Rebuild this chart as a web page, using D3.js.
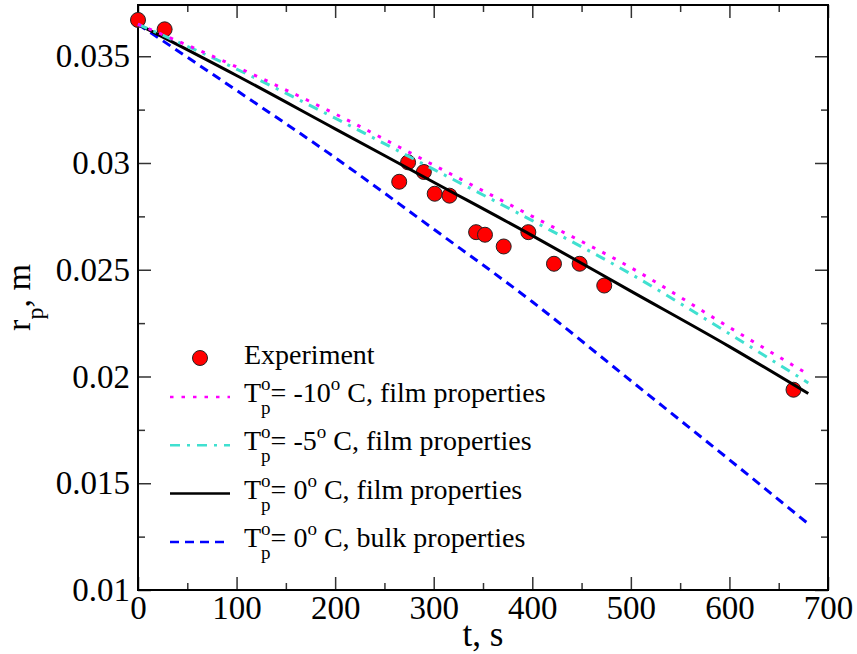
<!DOCTYPE html>
<html>
<head>
<meta charset="utf-8">
<script src="https://cdn.jsdelivr.net/npm/d3@7"></script>
<style>
  body { margin: 0; background: #fff; }
  svg { display: block; }
</style>
</head>
<body>
<svg id="chart" width="857" height="654"></svg>
<script>
// experiment points
var tExp = [0, 27, 265, 274, 290, 301, 316, 343, 352, 371, 396, 422, 448, 473, 665];
var rExp = [0.0367, 0.03626, 0.02912, 0.03003, 0.02958, 0.02856, 0.02847, 0.02676,
            0.02664, 0.02609, 0.02676, 0.02528, 0.02528, 0.02426, 0.01938];

// model curves, all sampled at the same times
var tModel = [0, 100, 200, 300, 400, 500, 600, 680];
var rFilmM10 = [0.0365, 0.0345, 0.0323, 0.0299, 0.0275, 0.0251, 0.0223, 0.0201];
var rFilmM5  = [0.0365, 0.0344, 0.0321, 0.0297, 0.0273, 0.0248, 0.0220, 0.0197];
var rFilm0   = [0.0365, 0.0341, 0.0316, 0.0291, 0.0266, 0.0240, 0.0214, 0.0192];
var rBulk0   = [0.0365, 0.0334, 0.03025, 0.0269, 0.0235, 0.0198, 0.0161, 0.0131];

var legendTemps = ["-10", "-5", "0", "0"];
var legendProps = ["film", "film", "film", "bulk"];

var xTicks = [0, 100, 200, 300, 400, 500, 600, 700];
var yTicks = [0.01, 0.015, 0.02, 0.025, 0.03, 0.035];

var FONT = "Liberation Serif";
var margin = {top: 5, right: 29, bottom: 64, left: 138};
var width = 857, height = 654;

var svg = d3.select("#chart");

var x = d3.scaleLinear().domain([0, 700]).range([margin.left, width - margin.right]);
var y = d3.scaleLinear().domain([0.01, 0.0374]).range([height - margin.bottom, margin.top]);

var x0 = margin.left, x1 = width - margin.right;
var y0 = height - margin.bottom, y1 = margin.top;

// minor ticks
var xMinor = d3.range(50, 700, 100);
var yMinor = d3.range(0.0125, 0.0374, 0.005);

function tickStyle(g) {
    g.attr("font-family", null).attr("font-size", null);
    g.select(".domain").remove();
    g.selectAll(".tick line").attr("stroke", "#333").attr("stroke-width", 1.5);
    g.selectAll(".tick text").attr("fill", "#000").attr("font-size", 33);
}

// bottom axis with labels
svg.append("g")
    .attr("transform", `translate(0,${y0})`)
    .call(d3.axisBottom(x).tickValues(xTicks).tickSize(-13).tickPadding(6).tickFormat(d3.format("d")))
    .call(tickStyle);
svg.append("g")
    .attr("transform", `translate(0,${y0})`)
    .call(d3.axisBottom(x).tickValues(xMinor).tickSize(-7).tickFormat(""))
    .call(tickStyle);
// top axis
svg.append("g")
    .attr("transform", `translate(0,${y1})`)
    .call(d3.axisTop(x).tickValues(xTicks).tickSize(-13).tickFormat(""))
    .call(tickStyle);
svg.append("g")
    .attr("transform", `translate(0,${y1})`)
    .call(d3.axisTop(x).tickValues(xMinor).tickSize(-7).tickFormat(""))
    .call(tickStyle);

// left axis with labels
svg.append("g")
    .attr("transform", `translate(${x0},0)`)
    .call(d3.axisLeft(y).tickValues(yTicks).tickSize(-13).tickPadding(8).tickFormat(d => String(+d.toFixed(3))))
    .call(tickStyle);
svg.append("g")
    .attr("transform", `translate(${x0},0)`)
    .call(d3.axisLeft(y).tickValues(yMinor).tickSize(-7).tickFormat(""))
    .call(tickStyle);
// right axis
svg.append("g")
    .attr("transform", `translate(${x1},0)`)
    .call(d3.axisRight(y).tickValues(yTicks).tickSize(-13).tickFormat(""))
    .call(tickStyle);
svg.append("g")
    .attr("transform", `translate(${x1},0)`)
    .call(d3.axisRight(y).tickValues(yMinor).tickSize(-7).tickFormat(""))
    .call(tickStyle);

// frame
svg.append("rect")
    .attr("x", x0).attr("y", y1)
    .attr("width", x1 - x0).attr("height", y0 - y1)
    .attr("fill", "none").attr("stroke", "#000").attr("stroke-width", 2);

// experiment circles (under the lines)
svg.append("g").selectAll("circle")
    .data(tExp.map((t, i) => [t, rExp[i]]))
    .join("circle")
    .attr("cx", d => x(d[0]))
    .attr("cy", d => y(d[1]))
    .attr("r", 7.5)
    .attr("fill", "#ff0000")
    .attr("stroke", "#222")
    .attr("stroke-width", 1);

var series = [
    {r: rBulk0,   color: "#0000ff", dash: "9,6"},
    {r: rFilm0,   color: "#000000", dash: null},
    {r: rFilmM5,  color: "#40e0d0", dash: "10,7,3,7"},
    {r: rFilmM10, color: "#ff00ff", dash: "3.5,8"}
];

var line = d3.line()
    .x(d => x(d[0]))
    .y(d => y(d[1]))
    .curve(d3.curveMonotoneX);

series.forEach(function(s) {
    svg.append("path")
        .datum(tModel.map((t, i) => [t, s.r[i]]))
        .attr("d", line)
        .attr("fill", "none")
        .attr("stroke", s.color)
        .attr("stroke-width", 3)
        .attr("stroke-dasharray", s.dash);
});

// legend
var legX = 170, legW = 60, textX = 244;
var leg = svg.append("g");

leg.append("circle")
    .attr("cx", legX + legW / 2).attr("cy", 358).attr("r", 7.5)
    .attr("fill", "#ff0000").attr("stroke", "#222");
leg.append("text").attr("x", textX).attr("y", 364).attr("font-size", 28).text("Experiment");

var legendSeries = [series[3], series[2], series[1], series[0]];
legendSeries.forEach(function(s, i) {
    var ly = 397 + i * 48.3;
    leg.append("line")
        .attr("x1", legX).attr("x2", legX + legW)
        .attr("y1", ly).attr("y2", ly)
        .attr("stroke", s.color).attr("stroke-width", 2.5)
        .attr("stroke-dasharray", s.dash);
    var t = leg.append("text").attr("x", textX).attr("y", ly + 5).attr("font-size", 28);
    t.append("tspan").text("T");
    t.append("tspan").attr("font-size", 19).attr("dy", -12).text("o");
    t.append("tspan").attr("font-size", 19).attr("dx", -9.5).attr("dy", 24).text("p");
    t.append("tspan").attr("dy", -12).text("= " + legendTemps[i]);
    t.append("tspan").attr("font-size", 19).attr("dy", -12).text("o");
    t.append("tspan").attr("dy", 12).text("\u00a0C, " + legendProps[i] + " properties");
});

// axis titles
svg.append("text")
    .attr("x", (x0 + x1) / 2).attr("y", 646)
    .attr("text-anchor", "middle")
    .attr("font-size", 35)
    .text("t, s");

var yl = svg.append("text")
    .attr("transform", `translate(30,${(y0 + y1) / 2}) rotate(-90)`)
    .attr("text-anchor", "middle")
    .attr("font-size", 34);
yl.append("tspan").text("r");
yl.append("tspan").attr("font-size", 24).attr("dy", 13).text("p");
yl.append("tspan").attr("dy", -13).text(", m");

// same serif face on every text
svg.selectAll("text").attr("font-family", FONT);
</script>
</body>
</html>
